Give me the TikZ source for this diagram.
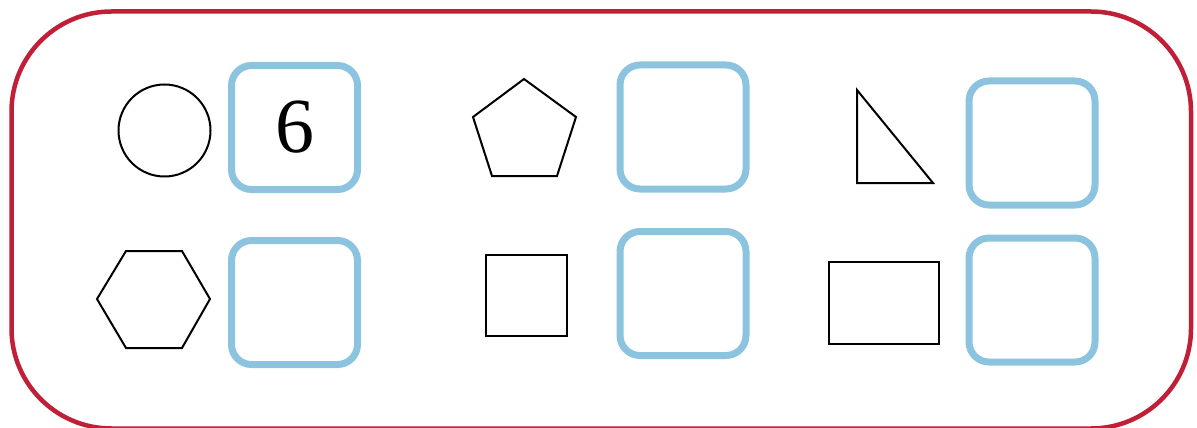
\documentclass[tikz,border=0pt]{standalone}
\usepackage{tikz}
\usepackage{fontspec}
\newfontfamily\digitfont{Liberation Serif}
\definecolor{framered}{RGB}{193,31,55}
\definecolor{boxblue}{RGB}{140,196,224}
\tikzset{
  answerbox/.style={draw=boxblue, line width=7pt, rounded corners=20pt, minimum width=126pt, minimum height=124pt, inner sep=0pt, outer sep=0pt, font=\digitfont\fontsize{78}{78}\selectfont},
  shapeline/.style={draw=black, line width=2pt, line join=miter},
}
\begin{document}
\begin{tikzpicture}[x=1pt,y=-1pt]
\useasboundingbox (0,0) rectangle (1197,428);
% frame
\draw[framered, line width=4.5pt, rounded corners=100pt] (11.5,11.5) rectangle (1191,428.5);
% answer boxes
\node[answerbox] (b1) at (294.5,127.5) {6};
\node[answerbox] (b2) at (294.5,302.5) {};
\node[answerbox] (b3) at (683,127) {};
\node[answerbox] (b4) at (683,293.5) {};
\node[answerbox] (b5) at (1032,143) {};
\node[answerbox] (b6) at (1032,300) {};
% shapes
\draw[shapeline] (164.5,130.5) circle (46);
\draw[shapeline] (97,299) -- (126,251) -- (182,251) -- (210,299) -- (182,348) -- (126,348) -- cycle;
\draw[shapeline] (524,79) -- (576,117) -- (557,176) -- (492,176) -- (473,117) -- cycle;
\draw[shapeline] (486,255) rectangle (567,336);
\draw[shapeline] (857,90) -- (933,183) -- (857,183) -- cycle;
\draw[shapeline] (829,262) rectangle (939,344);
\end{tikzpicture}
\end{document}
